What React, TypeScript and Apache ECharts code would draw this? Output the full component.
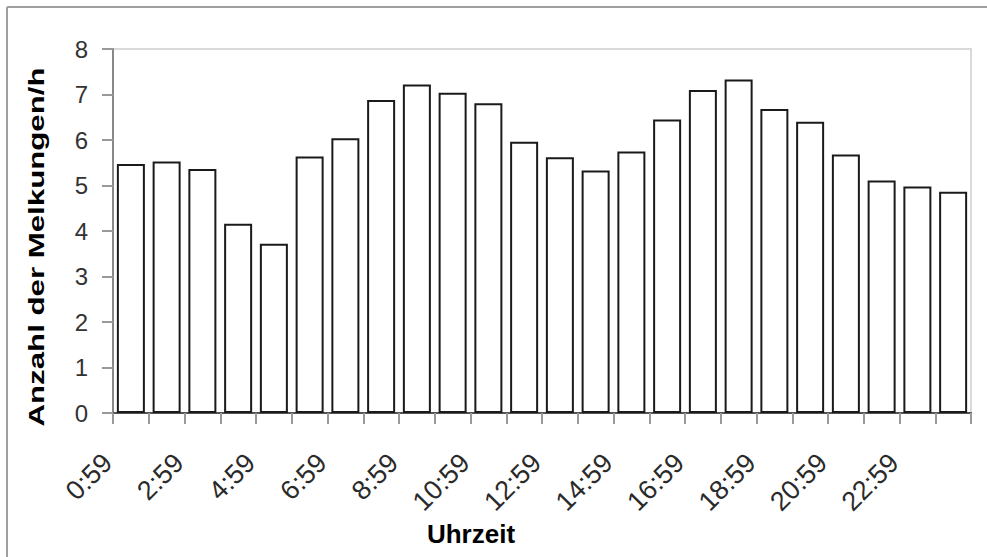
import React, { useEffect, useRef } from "react";
import * as echarts from "echarts";

// Hourly milking frequency (milkings per hour) by time of day
const hours = [
  "0:59", "1:59", "2:59", "3:59", "4:59", "5:59", "6:59", "7:59",
  "8:59", "9:59", "10:59", "11:59", "12:59", "13:59", "14:59", "15:59",
  "16:59", "17:59", "18:59", "19:59", "20:59", "21:59", "22:59", "23:59",
];
const milkings = [
  5.47, 5.53, 5.36, 4.16, 3.72, 5.64, 6.04, 6.88,
  7.22, 7.04, 6.81, 5.96, 5.62, 5.33, 5.75, 6.45,
  7.10, 7.33, 6.68, 6.40, 5.68, 5.11, 4.98, 4.86,
];
const yTicks = { min: 0, max: 8, interval: 1 };
const xTitle = "Uhrzeit";
const yTitle = "Anzahl der Melkungen/h";

const FONT = '"Liberation Sans", Arial, sans-serif';

export default function App() {
  const ref = useRef<HTMLDivElement>(null);

  useEffect(() => {
    if (!ref.current) return;
    const chart = echarts.init(ref.current, null, { renderer: "svg" });
    chart.setOption({
      animation: false,
      backgroundColor: "#ffffff",
      grid: {
        left: 113,
        right: 16,
        top: 49,
        bottom: 144,
        show: true,
        borderColor: "#d9d9d9",
        borderWidth: 2,
        backgroundColor: "transparent",
      },
      xAxis: {
        type: "category",
        data: hours,
        boundaryGap: true,
        axisLine: { show: true, lineStyle: { color: "#555555", width: 2 } },
        axisTick: {
          show: true,
          alignWithLabel: false,
          interval: 0,
          length: 11,
          lineStyle: { color: "#999999", width: 2 },
        },
        axisLabel: {
          interval: 1,
          rotate: 45,
          margin: 22,
          // trailing spacer nudges each slanted label back along its baseline
          formatter: (v: string) => `{t|${v}}{s|}`,
          rich: {
            t: { fontFamily: FONT, fontSize: 27, color: "#2a2a2a" },
            s: { width: 33 },
          },
          fontFamily: FONT,
          fontSize: 27,
          color: "#2a2a2a",
        },
        splitLine: { show: false },
      },
      yAxis: {
        type: "value",
        min: yTicks.min,
        max: yTicks.max,
        interval: yTicks.interval,
        axisLine: { show: true, lineStyle: { color: "#888888", width: 2 } },
        axisTick: {
          show: true,
          length: 11,
          lineStyle: { color: "#999999", width: 2 },
        },
        axisLabel: {
          margin: 25,
          fontFamily: FONT,
          fontSize: 24,
          color: "#333333",
        },
        splitLine: { show: false },
      },
      series: [
        {
          type: "bar",
          data: milkings,
          barWidth: 28,
          itemStyle: {
            color: "#ffffff",
            borderColor: "#1a1a1a",
            borderWidth: 2,
          },
          silent: true,
        },
      ],
      graphic: [
        // outer frame (top and left edges)
        {
          type: "line",
          shape: { x1: 7, y1: 7, x2: 987, y2: 7 },
          style: { stroke: "#a0a0a0", lineWidth: 2 },
          silent: true,
        },
        {
          type: "line",
          shape: { x1: 7, y1: 7, x2: 7, y2: 557 },
          style: { stroke: "#a0a0a0", lineWidth: 2 },
          silent: true,
        },
        {
          type: "text",
          x: 37,
          y: 247,
          rotation: Math.PI / 2,
          scaleX: 1.42,
          style: {
            text: yTitle,
            fontFamily: FONT,
            fontSize: 22,
            fontWeight: "bold",
            fill: "#000000",
            align: "center",
            verticalAlign: "middle",
            textAlign: "center",
            textVerticalAlign: "middle",
          },
          silent: true,
        },
        {
          type: "text",
          x: 471,
          y: 534,
          style: {
            text: xTitle,
            fontFamily: FONT,
            fontSize: 26,
            fontWeight: "bold",
            fill: "#000000",
            align: "center",
            verticalAlign: "middle",
            textAlign: "center",
            textVerticalAlign: "middle",
          },
          silent: true,
        },
      ],
    });
    return () => chart.dispose();
  }, []);

  return (
    <div
      ref={ref}
      style={{ position: "absolute", left: 0, top: 0, width: 987, height: 557 }}
    />
  );
}
